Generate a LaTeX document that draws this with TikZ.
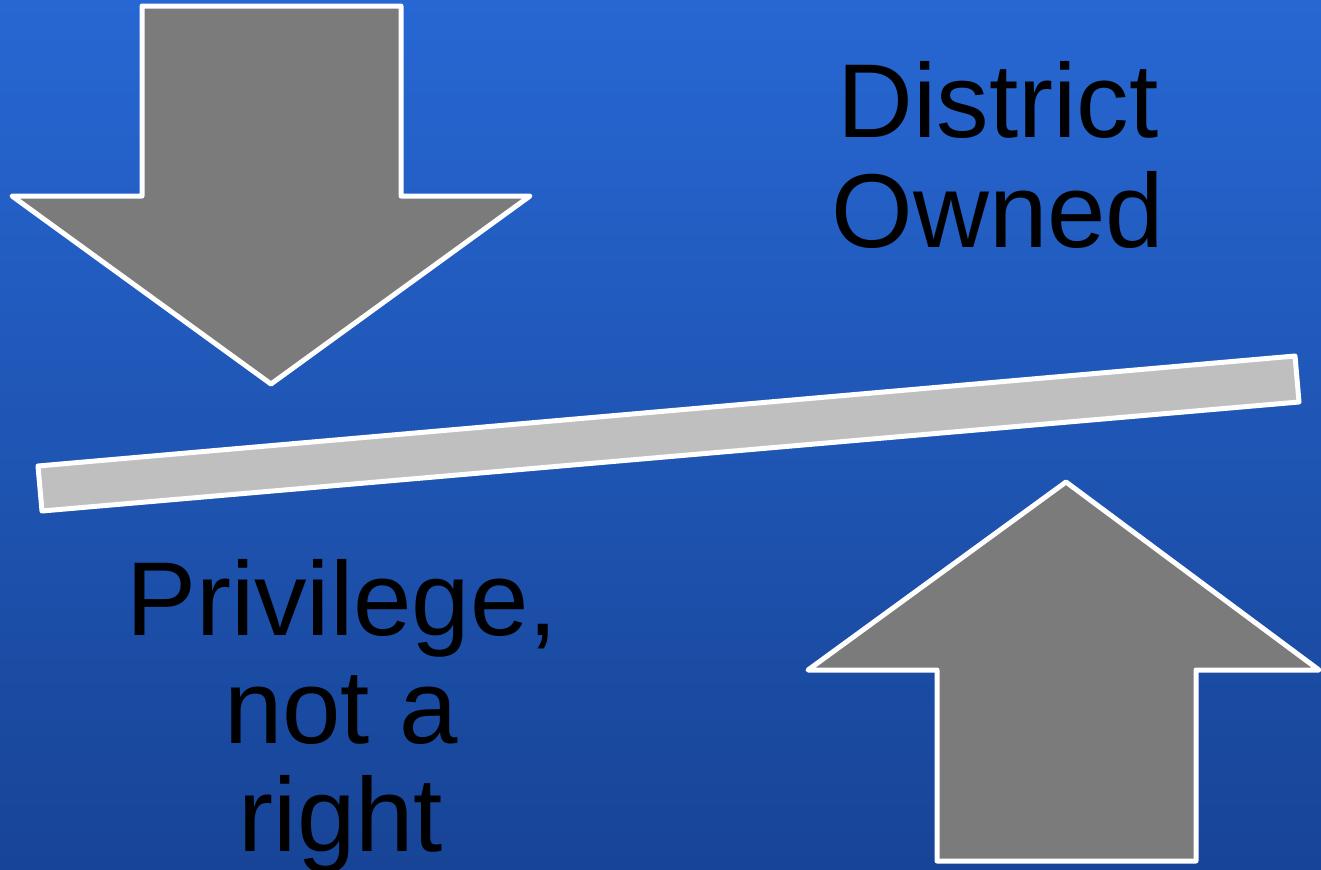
\documentclass[tikz,border=0pt]{standalone}
\usepackage{fontspec}
\setmainfont{Liberation Sans}
\definecolor{bgtop}{HTML}{2767D3}
\definecolor{bgbot}{HTML}{174496}
\definecolor{arrowgray}{HTML}{7B7B7B}
\definecolor{bargray}{HTML}{BFBFBF}
\tikzset{
  shapeline/.style={draw=white, line width=5bp, line join=round},
  bigtext/.style={font=\fontsize{105bp}{110bp}\selectfont, text=black, anchor=base, inner sep=0pt}
}
\begin{document}
\begin{tikzpicture}[x=1bp,y=-1bp]
\shade[top color=bgtop, bottom color=bgbot] (0,0) rectangle (1321,869);
\useasboundingbox (0,0) rectangle (1321,869);
% down arrow
\path[shapeline, fill=arrowgray] (142,6) -- (401,6) -- (401,196) -- (530,196) -- (271,384) -- (12,196) -- (142,196) -- cycle;
% up arrow
\path[shapeline, fill=arrowgray] (937,861) -- (1196,861) -- (1196,670) -- (1319,670) -- (1066,482) -- (808,670) -- (937,670) -- cycle;
% bar
\path[shapeline, fill=bargray] (38,466) -- (42,511) -- (1299,402) -- (1295,356) -- cycle;
% texts
\node[bigtext] (district) at (998,137) {District};
\node[bigtext] (owned) at (998,247) {Owned};
\node[bigtext] (privilege) at (342,635) {Privilege,};
\node[bigtext] (nota) at (341,743) {not a};
\node[bigtext] (right) at (341,851) {right};
\end{tikzpicture}
\end{document}
